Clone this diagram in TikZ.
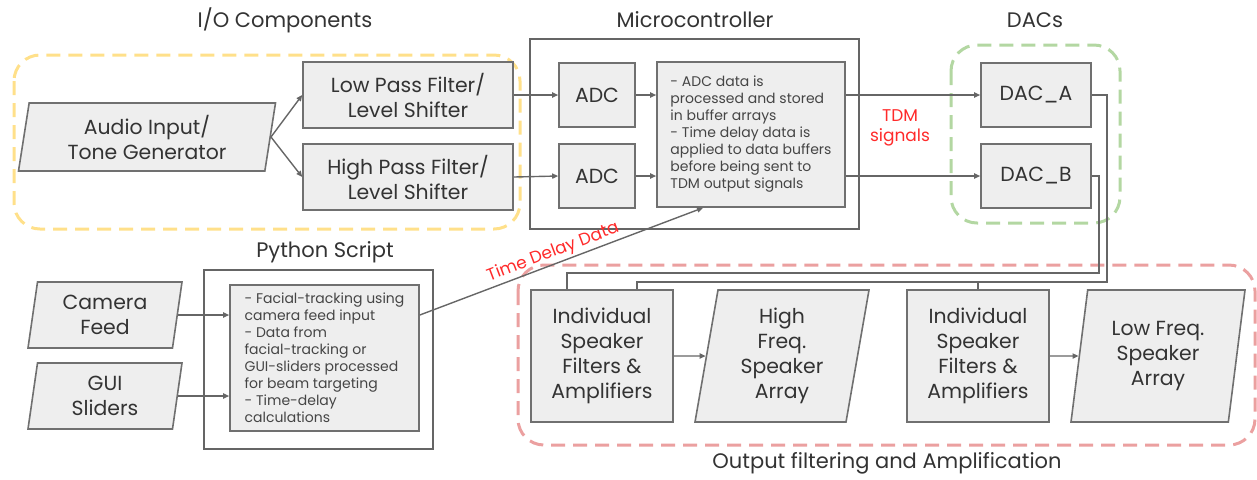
\documentclass[tikz,border=0pt]{standalone}
\usepackage{fontspec}
\setmainfont{Poppins}
\usetikzlibrary{arrows.meta,shapes.geometric,calc}

\definecolor{boxfill}{HTML}{EEEEEE}
\definecolor{edge}{HTML}{707070}
\definecolor{wirec}{HTML}{666666}
\definecolor{txt}{HTML}{333333}
\definecolor{notetxt}{HTML}{454545}
\definecolor{ioyellow}{HTML}{FFE08A}
\definecolor{dacgreen}{HTML}{B3D7A2}
\definecolor{outred}{HTML}{EBA0A0}
\definecolor{sigred}{HTML}{FF2A2A}

\begin{document}
\begin{tikzpicture}[x=0.5pt,y=-0.5pt,line join=miter,
    >={Triangle[length=3pt,width=2.6pt]},
    font=\fontsize{10.2}{12.5}\selectfont,text=txt]
  \tikzset{blk/.style={draw=edge,line width=0.8pt,fill=boxfill,align=center,inner sep=0pt},
    io/.style={blk,trapezium,trapezium left angle=76.5,trapezium right angle=103.5,
      trapezium stretches body},
    note/.style={blk,align=left,font=\fontsize{7}{8.5}\selectfont,text=notetxt},
    frame/.style={draw=edge!90!black,line width=0.8pt,inner sep=0pt},
    wire/.style={draw=wirec,line width=0.7pt},
    zone/.style={dash pattern=on 7pt off 4pt,line width=1.5pt,rounded corners=13pt},
    title/.style={font=\fontsize{10.5}{12}\selectfont},
    sig/.style={text=sigred,font=\fontsize{8.5}{10}\selectfont}}
  \useasboundingbox (0,0) rectangle (1257,479);
  % dashed groups
  \draw[zone,ioyellow] (14,55) rectangle (520,229);
  \draw[zone,dacgreen] (951,45) rectangle (1120,223);
  \draw[zone,outred] (518,265) rectangle (1255,445);
  \node[title] (ioT) at (285,20) {I/O Components};
  \node[title] (mcT) at (695,20) {Microcontroller};
  \node[title] (dacT) at (1035,20) {DACs};
  \node[title] (pyT) at (325,252) {Python Script};
  \node[title] (outT) at (887,463) {Output filtering and Amplification};
  % input side
  \node[io,minimum width=128.5pt,minimum height=34pt] (audio) at (147,137) {Audio Input/\\Tone Generator};
  \node[blk,minimum width=105pt,minimum height=33pt] (lp) at (408,95) {Low Pass Filter/\\Level Shifter};
  \node[blk,minimum width=105pt,minimum height=33pt] (hp) at (408,177) {High Pass Filter/\\Level Shifter};
  % microcontroller
  \node[frame,minimum width=164.5pt,minimum height=95pt] (mcu) at (694.5,134) {};
  \node[blk,minimum width=38pt,minimum height=32pt] (adcA) at (597,95) {ADC};
  \node[blk,minimum width=38pt,minimum height=32pt] (adcB) at (597,176) {ADC};
  \node[note,minimum width=94pt,minimum height=72.5pt] (proc) at (751,134.5)
    {- ADC data is\\processed and stored\\in buffer arrays\\- Time delay data is\\applied to data buffers\\before being sent to\\TDM output signals};
  \node[blk,minimum width=55pt,minimum height=32pt] (dacA) at (1036,95) {DAC\_A};
  \node[blk,minimum width=55pt,minimum height=32pt] (dacB) at (1036,176) {DAC\_B};
  \node[sig,align=center] (tdm) at (900,128) {TDM\\signals};
  % python side
  \node[io,minimum width=77pt,minimum height=33pt] (cam) at (105,315) {Camera\\Feed};
  \node[io,minimum width=77pt,minimum height=33pt] (gui) at (105,396) {GUI\\Sliders};
  \node[frame,minimum width=114.5pt,minimum height=89.5pt] (py) at (318.5,359.5) {};
  \node[note,minimum width=94.5pt,minimum height=73pt] (pyproc) at (324.5,358)
    {- Facial-tracking using\\camera feed input\\- Data from\\facial-tracking or\\GUI-sliders processed\\for beam targeting\\- Time-delay\\calculations};
  % output side
  \node[blk,minimum width=71pt,minimum height=66pt] (indA) at (602,356) {Individual\\Speaker\\Filters \&\\Amplifiers};
  \node[io,minimum width=87pt,minimum height=66pt] (hf) at (782,356) {High\\Freq.\\Speaker\\Array};
  \node[blk,minimum width=71pt,minimum height=66pt] (indB) at (978,356) {Individual\\Speaker\\Filters \&\\Amplifiers};
  \node[io,minimum width=87pt,minimum height=66pt] (lf) at (1158,356) {Low Freq.\\Speaker\\Array};
  \coordinate (busA) at (1107,282);
  \coordinate (busB) at (1099,273);
  % connections
  \draw[wire,->] (audio.east) -- (lp.west);
  \draw[wire,->] (audio.east) -- (hp.west);
  \draw[wire,->] (lp.east) -- (adcA.west);
  \draw[wire,->] (hp.east) -- (adcB.west);
  \draw[wire,->] (adcA.east) -- (adcA.east -| proc.west);
  \draw[wire,->] (adcB.east) -- (adcB.east -| proc.west);
  \draw[wire,->] (dacA.west -| proc.east) -- (dacA.west);
  \draw[wire,->] (dacB.west -| proc.east) -- (dacB.west);
  \draw[wire,->] (cam.east) -- (cam.east -| pyproc.west);
  \draw[wire,->] (gui.east) -- (gui.east -| pyproc.west);
  \draw[wire,->] (pyproc.east |- cam.east) -- ($(proc.south)+(-48,0)$)
    node[sig,pos=0.485,sloped,above=0pt,inner sep=1pt] (tdd) {Time Delay Data};
  \draw[wire] (dacA.east) -| (busA) -| ($(indA.north)+(35,0)$);
  \draw[wire] (dacB.east) -| (busB) -| ($(indA.north)+(-35,0)$);
  \draw[wire] (indB.north) -- (indB.north |- busA);
  \draw[wire,->] (indA) -- (hf);
  \draw[wire,->] (indB) -- (lf);
\end{tikzpicture}
\end{document}
